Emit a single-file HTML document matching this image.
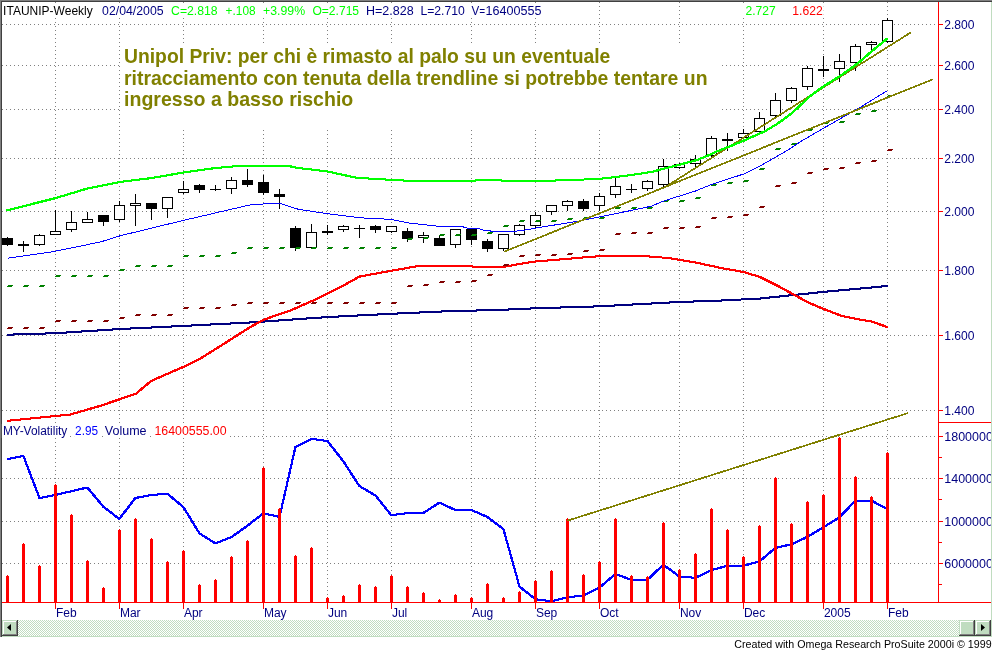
<!DOCTYPE html><html><head><meta charset="utf-8"><title>ITAUNIP-Weekly</title><style>
html,body{margin:0;padding:0;background:#fff;overflow:hidden}
svg{display:block;will-change:transform;font-family:"Liberation Sans",Arial,sans-serif}
.t{font-size:12px}.m{font-size:12px;fill:#000080}
.an{font-size:19.3px;font-weight:bold;fill:#808000}
</style></head><body>
<svg width="993" height="651" viewBox="0 0 993 651">
<defs><pattern id="dz" width="2" height="2" patternUnits="userSpaceOnUse"><rect width="2" height="2" fill="#fff"/><rect width="1" height="1" fill="#c0dcc0"/><rect x="1" y="1" width="1" height="1" fill="#c0dcc0"/></pattern></defs>
<rect width="993" height="651" fill="#fff"/>
<g shape-rendering="crispEdges">
<g stroke="#808080" stroke-width="1" stroke-dasharray="1 3" fill="none">
<line x1="55.5" y1="2" x2="55.5" y2="602"/>
<line x1="119.5" y1="2" x2="119.5" y2="602"/>
<line x1="183.5" y1="2" x2="183.5" y2="602"/>
<line x1="263.5" y1="2" x2="263.5" y2="602"/>
<line x1="327.5" y1="2" x2="327.5" y2="602"/>
<line x1="391.5" y1="2" x2="391.5" y2="602"/>
<line x1="471.5" y1="2" x2="471.5" y2="602"/>
<line x1="535.5" y1="2" x2="535.5" y2="602"/>
<line x1="599.5" y1="2" x2="599.5" y2="602"/>
<line x1="679.5" y1="2" x2="679.5" y2="602"/>
<line x1="743.5" y1="2" x2="743.5" y2="602"/>
<line x1="823.5" y1="2" x2="823.5" y2="602"/>
<line x1="887.5" y1="2" x2="887.5" y2="602"/>
<line x1="2" y1="24.5" x2="938" y2="24.5"/>
<line x1="2" y1="65.5" x2="938" y2="65.5"/>
<line x1="2" y1="109.5" x2="938" y2="109.5"/>
<line x1="2" y1="158.5" x2="938" y2="158.5"/>
<line x1="2" y1="211.5" x2="938" y2="211.5"/>
<line x1="2" y1="270.5" x2="938" y2="270.5"/>
<line x1="2" y1="335.5" x2="938" y2="335.5"/>
<line x1="2" y1="410.5" x2="938" y2="410.5"/>
<line x1="2" y1="436.5" x2="938" y2="436.5"/>
<line x1="2" y1="478.5" x2="938" y2="478.5"/>
<line x1="2" y1="521.5" x2="938" y2="521.5"/>
<line x1="2" y1="563.5" x2="938" y2="563.5"/>
</g>
<rect x="121" y="43" width="600" height="86" fill="#fff"/>
<rect x="0" y="0" width="992" height="1" fill="#808080"/><rect x="1" y="1" width="991" height="1" fill="#404040"/>
<rect x="0" y="0" width="1" height="637" fill="#808080"/><rect x="1" y="1" width="1" height="636" fill="#404040"/>
<rect x="991" y="2" width="1" height="635" fill="#c0dcc0"/>
<rect x="2" y="620" width="989" height="16" fill="url(#dz)"/><rect x="2" y="636" width="990" height="1" fill="#c0dcc0"/>
<rect x="2" y="620" width="16" height="16" fill="#c0dcc0"/>
<rect x="3" y="621" width="13" height="1" fill="#fff"/><rect x="3" y="621" width="1" height="13" fill="#fff"/>
<rect x="2" y="635" width="16" height="1" fill="#404040"/><rect x="17" y="620" width="1" height="16" fill="#404040"/>
<rect x="3" y="634" width="14" height="1" fill="#808080"/><rect x="16" y="621" width="1" height="14" fill="#808080"/>
<rect x="959" y="620" width="16" height="16" fill="#c0dcc0"/>
<rect x="960" y="621" width="13" height="1" fill="#fff"/><rect x="960" y="621" width="1" height="13" fill="#fff"/>
<rect x="959" y="635" width="16" height="1" fill="#404040"/><rect x="974" y="620" width="1" height="16" fill="#404040"/>
<rect x="960" y="634" width="14" height="1" fill="#808080"/><rect x="973" y="621" width="1" height="14" fill="#808080"/>
<rect x="975" y="620" width="16" height="16" fill="#c0dcc0"/>
<rect x="976" y="621" width="13" height="1" fill="#fff"/><rect x="976" y="621" width="1" height="13" fill="#fff"/>
<rect x="975" y="635" width="16" height="1" fill="#404040"/><rect x="990" y="620" width="1" height="16" fill="#404040"/>
<rect x="976" y="634" width="14" height="1" fill="#808080"/><rect x="989" y="621" width="1" height="14" fill="#808080"/>
</g>
<path d="M7 627.5 L11 624 L11 631 Z" fill="#000"/><path d="M985 627.5 L981 624 L981 631 Z" fill="#000"/>
<g shape-rendering="crispEdges">
<rect x="938" y="2" width="1" height="601" fill="#f00"/><rect x="2" y="602" width="989" height="1" fill="#f00"/><rect x="938" y="422" width="53" height="1" fill="#f00"/>
<rect x="939" y="24" width="4" height="1" fill="#f00"/>
<rect x="939" y="65" width="4" height="1" fill="#f00"/>
<rect x="939" y="109" width="4" height="1" fill="#f00"/>
<rect x="939" y="158" width="4" height="1" fill="#f00"/>
<rect x="939" y="211" width="4" height="1" fill="#f00"/>
<rect x="939" y="270" width="4" height="1" fill="#f00"/>
<rect x="939" y="335" width="4" height="1" fill="#f00"/>
<rect x="939" y="410" width="4" height="1" fill="#f00"/>
<rect x="939" y="436" width="4" height="1" fill="#f00"/>
<rect x="939" y="478" width="4" height="1" fill="#f00"/>
<rect x="939" y="521" width="4" height="1" fill="#f00"/>
<rect x="939" y="563" width="4" height="1" fill="#f00"/>
<rect x="939" y="457" width="3" height="1" fill="#f00"/>
<rect x="939" y="499" width="3" height="1" fill="#f00"/>
<rect x="939" y="542" width="3" height="1" fill="#f00"/>
<rect x="939" y="584" width="3" height="1" fill="#f00"/>
<rect x="55" y="603" width="1" height="6" fill="#f00"/>
<rect x="119" y="603" width="1" height="6" fill="#f00"/>
<rect x="183" y="603" width="1" height="6" fill="#f00"/>
<rect x="263" y="603" width="1" height="6" fill="#f00"/>
<rect x="327" y="603" width="1" height="6" fill="#f00"/>
<rect x="391" y="603" width="1" height="6" fill="#f00"/>
<rect x="471" y="603" width="1" height="6" fill="#f00"/>
<rect x="535" y="603" width="1" height="6" fill="#f00"/>
<rect x="599" y="603" width="1" height="6" fill="#f00"/>
<rect x="679" y="603" width="1" height="6" fill="#f00"/>
<rect x="743" y="603" width="1" height="6" fill="#f00"/>
<rect x="823" y="603" width="1" height="6" fill="#f00"/>
<rect x="887" y="603" width="1" height="6" fill="#f00"/>
<g fill="none" stroke="#00f" stroke-width="1"><polyline points="7.0,458.5 22.9,455.5 39.0,497.5 54.9,494.5 71.0,490.7 86.9,487.0 103.0,506.4 118.8,518.4 134.9,497.5 150.8,494.5 166.9,493.3 182.8,506.4 198.9,532.8 214.8,542.9 230.9,536.6 247.0,525.2 262.9,512.7 279.0,516.5 294.9,446.7 311.0,438.4 326.9,440.5 343.0,461.0 358.8,485.5 375.0,495.0 390.8,514.7 406.9,512.7 423.3,512.2 438.9,502.1 454.8,509.5 470.9,509.5 487.0,516.5 502.9,528.5 519.0,586.1 534.9,598.7 551.0,600.7 566.9,596.9 583.0,594.9 598.8,587.3 614.9,573.5 630.8,579.3 646.9,579.3 662.8,564.2 678.9,576.0 694.8,577.3 710.9,569.7 726.9,565.2 742.9,565.2 758.8,561.1 774.8,547.4 791.0,543.8 806.9,536.4 822.9,526.7 838.8,517.1 854.8,500.1 870.7,500.1 886.7,508.3"/><polyline points="8.0,458.5 23.9,455.5 40.0,497.5 55.9,494.5 72.0,490.7 87.9,487.0 104.0,506.4 119.8,518.4 135.9,497.5 151.8,494.5 167.9,493.3 183.8,506.4 199.9,532.8 215.8,542.9 231.9,536.6 248.0,525.2 263.9,512.7 280.0,516.5 295.9,446.7 312.0,438.4 327.9,440.5 344.0,461.0 359.8,485.5 376.0,495.0 391.8,514.7 407.9,512.7 424.3,512.2 439.9,502.1 455.8,509.5 471.9,509.5 488.0,516.5 503.9,528.5 520.0,586.1 535.9,598.7 552.0,600.7 567.9,596.9 584.0,594.9 599.8,587.3 615.9,573.5 631.8,579.3 647.9,579.3 663.8,564.2 679.9,576.0 695.8,577.3 711.9,569.7 727.9,565.2 743.9,565.2 759.8,561.1 775.8,547.4 792.0,543.8 807.9,536.4 823.9,526.7 839.8,517.1 855.8,500.1 871.7,500.1 887.7,508.3"/><polyline points="7.0,459.5 22.9,456.5 39.0,498.5 54.9,495.5 71.0,491.7 86.9,488.0 103.0,507.4 118.8,519.4 134.9,498.5 150.8,495.5 166.9,494.3 182.8,507.4 198.9,533.8 214.8,543.9 230.9,537.6 247.0,526.2 262.9,513.7 279.0,517.5 294.9,447.7 311.0,439.4 326.9,441.5 343.0,462.0 358.8,486.5 375.0,496.0 390.8,515.7 406.9,513.7 423.3,513.2 438.9,503.1 454.8,510.5 470.9,510.5 487.0,517.5 502.9,529.5 519.0,587.1 534.9,599.7 551.0,601.7 566.9,597.9 583.0,595.9 598.8,588.3 614.9,574.5 630.8,580.3 646.9,580.3 662.8,565.2 678.9,577.0 694.8,578.3 710.9,570.7 726.9,566.2 742.9,566.2 758.8,562.1 774.8,548.4 791.0,544.8 806.9,537.4 822.9,527.7 838.8,518.1 854.8,501.1 870.7,501.1 886.7,509.3"/><polyline points="8.0,459.5 23.9,456.5 40.0,498.5 55.9,495.5 72.0,491.7 87.9,488.0 104.0,507.4 119.8,519.4 135.9,498.5 151.8,495.5 167.9,494.3 183.8,507.4 199.9,533.8 215.8,543.9 231.9,537.6 248.0,526.2 263.9,513.7 280.0,517.5 295.9,447.7 312.0,439.4 327.9,441.5 344.0,462.0 359.8,486.5 376.0,496.0 391.8,515.7 407.9,513.7 424.3,513.2 439.9,503.1 455.8,510.5 471.9,510.5 488.0,517.5 503.9,529.5 520.0,587.1 535.9,599.7 552.0,601.7 567.9,597.9 584.0,595.9 599.8,588.3 615.9,574.5 631.8,580.3 647.9,580.3 663.8,565.2 679.9,577.0 695.8,578.3 711.9,570.7 727.9,566.2 743.9,566.2 759.8,562.1 775.8,548.4 792.0,544.8 807.9,537.4 823.9,527.7 839.8,518.1 855.8,501.1 871.7,501.1 887.7,509.3"/></g>
<rect x="6" y="576" width="3" height="26" fill="#f00"/><rect x="7" y="575" width="1" height="1" fill="#f00"/>
<rect x="22" y="544" width="3" height="58" fill="#f00"/><rect x="23" y="543" width="1" height="1" fill="#f00"/>
<rect x="38" y="566" width="3" height="36" fill="#f00"/><rect x="39" y="565" width="1" height="1" fill="#f00"/>
<rect x="54" y="485" width="3" height="117" fill="#f00"/><rect x="55" y="484" width="1" height="1" fill="#f00"/>
<rect x="70" y="515" width="3" height="87" fill="#f00"/><rect x="71" y="514" width="1" height="1" fill="#f00"/>
<rect x="86" y="561" width="3" height="41" fill="#f00"/><rect x="87" y="560" width="1" height="1" fill="#f00"/>
<rect x="102" y="588" width="3" height="14" fill="#f00"/><rect x="103" y="587" width="1" height="1" fill="#f00"/>
<rect x="118" y="530" width="3" height="72" fill="#f00"/><rect x="119" y="529" width="1" height="1" fill="#f00"/>
<rect x="134" y="519" width="3" height="83" fill="#f00"/><rect x="135" y="518" width="1" height="1" fill="#f00"/>
<rect x="150" y="539" width="3" height="63" fill="#f00"/><rect x="151" y="538" width="1" height="1" fill="#f00"/>
<rect x="166" y="562" width="3" height="40" fill="#f00"/><rect x="167" y="561" width="1" height="1" fill="#f00"/>
<rect x="182" y="551" width="3" height="51" fill="#f00"/><rect x="183" y="550" width="1" height="1" fill="#f00"/>
<rect x="198" y="585" width="3" height="17" fill="#f00"/><rect x="199" y="584" width="1" height="1" fill="#f00"/>
<rect x="214" y="580" width="3" height="22" fill="#f00"/><rect x="215" y="579" width="1" height="1" fill="#f00"/>
<rect x="230" y="557" width="3" height="45" fill="#f00"/><rect x="231" y="556" width="1" height="1" fill="#f00"/>
<rect x="246" y="541" width="3" height="61" fill="#f00"/><rect x="247" y="540" width="1" height="1" fill="#f00"/>
<rect x="262" y="468" width="3" height="134" fill="#f00"/><rect x="263" y="467" width="1" height="1" fill="#f00"/>
<rect x="278" y="509" width="3" height="93" fill="#f00"/><rect x="279" y="508" width="1" height="1" fill="#f00"/>
<rect x="294" y="556" width="3" height="46" fill="#f00"/><rect x="295" y="555" width="1" height="1" fill="#f00"/>
<rect x="310" y="548" width="3" height="54" fill="#f00"/><rect x="311" y="547" width="1" height="1" fill="#f00"/>
<rect x="326" y="598" width="3" height="4" fill="#f00"/><rect x="327" y="597" width="1" height="1" fill="#f00"/>
<rect x="342" y="596" width="3" height="6" fill="#f00"/><rect x="343" y="595" width="1" height="1" fill="#f00"/>
<rect x="358" y="585" width="3" height="17" fill="#f00"/><rect x="359" y="584" width="1" height="1" fill="#f00"/>
<rect x="374" y="587" width="3" height="15" fill="#f00"/><rect x="375" y="586" width="1" height="1" fill="#f00"/>
<rect x="390" y="576" width="3" height="26" fill="#f00"/><rect x="391" y="575" width="1" height="1" fill="#f00"/>
<rect x="406" y="587" width="3" height="15" fill="#f00"/><rect x="407" y="586" width="1" height="1" fill="#f00"/>
<rect x="422" y="593" width="3" height="9" fill="#f00"/><rect x="423" y="592" width="1" height="1" fill="#f00"/>
<rect x="438" y="600" width="3" height="2" fill="#f00"/><rect x="439" y="599" width="1" height="1" fill="#f00"/>
<rect x="454" y="595" width="3" height="7" fill="#f00"/><rect x="455" y="594" width="1" height="1" fill="#f00"/>
<rect x="470" y="598" width="3" height="4" fill="#f00"/><rect x="471" y="597" width="1" height="1" fill="#f00"/>
<rect x="486" y="584" width="3" height="18" fill="#f00"/><rect x="487" y="583" width="1" height="1" fill="#f00"/>
<rect x="502" y="598" width="3" height="4" fill="#f00"/><rect x="503" y="597" width="1" height="1" fill="#f00"/>
<rect x="518" y="592" width="3" height="10" fill="#f00"/><rect x="519" y="591" width="1" height="1" fill="#f00"/>
<rect x="534" y="581" width="3" height="21" fill="#f00"/><rect x="535" y="580" width="1" height="1" fill="#f00"/>
<rect x="550" y="571" width="3" height="31" fill="#f00"/><rect x="551" y="570" width="1" height="1" fill="#f00"/>
<rect x="566" y="519" width="3" height="83" fill="#f00"/><rect x="567" y="518" width="1" height="1" fill="#f00"/>
<rect x="582" y="575" width="3" height="27" fill="#f00"/><rect x="583" y="574" width="1" height="1" fill="#f00"/>
<rect x="598" y="562" width="3" height="40" fill="#f00"/><rect x="599" y="561" width="1" height="1" fill="#f00"/>
<rect x="614" y="519" width="3" height="83" fill="#f00"/><rect x="615" y="518" width="1" height="1" fill="#f00"/>
<rect x="630" y="576" width="3" height="26" fill="#f00"/><rect x="631" y="575" width="1" height="1" fill="#f00"/>
<rect x="646" y="577" width="3" height="25" fill="#f00"/><rect x="647" y="576" width="1" height="1" fill="#f00"/>
<rect x="662" y="523" width="3" height="79" fill="#f00"/><rect x="663" y="522" width="1" height="1" fill="#f00"/>
<rect x="678" y="570" width="3" height="32" fill="#f00"/><rect x="679" y="569" width="1" height="1" fill="#f00"/>
<rect x="694" y="554" width="3" height="48" fill="#f00"/><rect x="695" y="553" width="1" height="1" fill="#f00"/>
<rect x="710" y="509" width="3" height="93" fill="#f00"/><rect x="711" y="508" width="1" height="1" fill="#f00"/>
<rect x="726" y="530" width="3" height="72" fill="#f00"/><rect x="727" y="529" width="1" height="1" fill="#f00"/>
<rect x="742" y="557" width="3" height="45" fill="#f00"/><rect x="743" y="556" width="1" height="1" fill="#f00"/>
<rect x="758" y="526" width="3" height="76" fill="#f00"/><rect x="759" y="525" width="1" height="1" fill="#f00"/>
<rect x="774" y="478" width="3" height="124" fill="#f00"/><rect x="775" y="477" width="1" height="1" fill="#f00"/>
<rect x="790" y="524" width="3" height="78" fill="#f00"/><rect x="791" y="523" width="1" height="1" fill="#f00"/>
<rect x="806" y="502" width="3" height="100" fill="#f00"/><rect x="807" y="501" width="1" height="1" fill="#f00"/>
<rect x="822" y="495" width="3" height="107" fill="#f00"/><rect x="823" y="494" width="1" height="1" fill="#f00"/>
<rect x="838" y="438" width="3" height="164" fill="#f00"/><rect x="839" y="437" width="1" height="1" fill="#f00"/>
<rect x="854" y="477" width="3" height="125" fill="#f00"/><rect x="855" y="476" width="1" height="1" fill="#f00"/>
<rect x="870" y="497" width="3" height="105" fill="#f00"/><rect x="871" y="496" width="1" height="1" fill="#f00"/>
<rect x="886" y="453" width="3" height="149" fill="#f00"/><rect x="887" y="452" width="1" height="1" fill="#f00"/>
<rect x="7" y="237" width="1" height="9" fill="#000"/>
<rect x="2" y="238" width="11" height="7" fill="#000"/>
<rect x="23" y="241" width="1" height="11" fill="#000"/>
<rect x="18" y="244" width="11" height="2" fill="#000"/>
<rect x="39" y="234" width="1" height="12" fill="#000"/>
<rect x="34.5" y="235.5" width="10" height="9" fill="#fff" stroke="#000" stroke-width="1"/>
<rect x="55" y="210" width="1" height="25" fill="#000"/>
<rect x="50.5" y="231.5" width="10" height="3" fill="#fff" stroke="#000" stroke-width="1"/>
<rect x="71" y="211" width="1" height="21" fill="#000"/>
<rect x="66.5" y="222.5" width="10" height="7" fill="#fff" stroke="#000" stroke-width="1"/>
<rect x="87" y="212" width="1" height="11" fill="#000"/>
<rect x="82.5" y="219.5" width="10" height="3" fill="#fff" stroke="#000" stroke-width="1"/>
<rect x="103" y="215" width="1" height="11" fill="#000"/>
<rect x="98" y="215" width="11" height="7" fill="#000"/>
<rect x="119" y="201" width="1" height="21" fill="#000"/>
<rect x="114.5" y="205.5" width="10" height="14" fill="#fff" stroke="#000" stroke-width="1"/>
<rect x="135" y="194" width="1" height="32" fill="#000"/>
<rect x="130.5" y="203.5" width="10" height="2" fill="#fff" stroke="#000" stroke-width="1"/>
<rect x="151" y="203" width="1" height="17" fill="#000"/>
<rect x="146" y="203" width="11" height="6" fill="#000"/>
<rect x="167" y="197" width="1" height="21" fill="#000"/>
<rect x="162.5" y="197.5" width="10" height="11" fill="#fff" stroke="#000" stroke-width="1"/>
<rect x="183" y="181" width="1" height="13" fill="#000"/>
<rect x="178.5" y="189.5" width="10" height="3" fill="#fff" stroke="#000" stroke-width="1"/>
<rect x="199" y="184" width="1" height="9" fill="#000"/>
<rect x="194" y="185" width="11" height="5" fill="#000"/>
<rect x="215" y="185" width="1" height="6" fill="#000"/>
<rect x="210" y="189" width="11" height="1" fill="#000"/>
<rect x="231" y="177" width="1" height="17" fill="#000"/>
<rect x="226.5" y="180.5" width="10" height="8" fill="#fff" stroke="#000" stroke-width="1"/>
<rect x="247" y="169" width="1" height="18" fill="#000"/>
<rect x="242" y="180" width="11" height="5" fill="#000"/>
<rect x="263" y="175" width="1" height="20" fill="#000"/>
<rect x="258" y="182" width="11" height="11" fill="#000"/>
<rect x="279" y="189" width="1" height="20" fill="#000"/>
<rect x="274" y="194" width="11" height="3" fill="#000"/>
<rect x="295" y="226" width="1" height="25" fill="#000"/>
<rect x="290" y="228" width="11" height="20" fill="#000"/>
<rect x="311" y="224" width="1" height="24" fill="#000"/>
<rect x="306.5" y="232.5" width="10" height="15" fill="#fff" stroke="#000" stroke-width="1"/>
<rect x="327" y="225" width="1" height="10" fill="#000"/>
<rect x="322" y="231" width="11" height="2" fill="#000"/>
<rect x="343" y="225" width="1" height="7" fill="#000"/>
<rect x="338.5" y="226.5" width="10" height="3" fill="#fff" stroke="#000" stroke-width="1"/>
<rect x="359" y="225" width="1" height="13" fill="#000"/>
<rect x="354" y="228" width="11" height="1" fill="#000"/>
<rect x="375" y="225" width="1" height="8" fill="#000"/>
<rect x="370" y="226" width="11" height="4" fill="#000"/>
<rect x="391" y="226" width="1" height="7" fill="#000"/>
<rect x="386.5" y="226.5" width="10" height="5" fill="#fff" stroke="#000" stroke-width="1"/>
<rect x="407" y="228" width="1" height="14" fill="#000"/>
<rect x="402" y="231" width="11" height="8" fill="#000"/>
<rect x="423" y="232" width="1" height="11" fill="#000"/>
<rect x="418.5" y="235.5" width="10" height="2" fill="#fff" stroke="#000" stroke-width="1"/>
<rect x="439" y="236" width="1" height="10" fill="#000"/>
<rect x="434" y="238" width="11" height="8" fill="#000"/>
<rect x="455" y="229" width="1" height="19" fill="#000"/>
<rect x="450.5" y="229.5" width="10" height="15" fill="#fff" stroke="#000" stroke-width="1"/>
<rect x="471" y="228" width="1" height="17" fill="#000"/>
<rect x="466" y="229" width="11" height="11" fill="#000"/>
<rect x="487" y="239" width="1" height="13" fill="#000"/>
<rect x="482" y="241" width="11" height="8" fill="#000"/>
<rect x="503" y="234" width="1" height="17" fill="#000"/>
<rect x="498.5" y="234.5" width="10" height="14" fill="#fff" stroke="#000" stroke-width="1"/>
<rect x="519" y="224" width="1" height="12" fill="#000"/>
<rect x="514.5" y="225.5" width="10" height="9" fill="#fff" stroke="#000" stroke-width="1"/>
<rect x="535" y="212" width="1" height="16" fill="#000"/>
<rect x="530.5" y="215.5" width="10" height="10" fill="#fff" stroke="#000" stroke-width="1"/>
<rect x="551" y="205" width="1" height="10" fill="#000"/>
<rect x="546.5" y="205.5" width="10" height="6" fill="#fff" stroke="#000" stroke-width="1"/>
<rect x="567" y="200" width="1" height="11" fill="#000"/>
<rect x="562.5" y="201.5" width="10" height="4" fill="#fff" stroke="#000" stroke-width="1"/>
<rect x="583" y="199" width="1" height="12" fill="#000"/>
<rect x="578" y="201" width="11" height="8" fill="#000"/>
<rect x="599" y="193" width="1" height="18" fill="#000"/>
<rect x="594.5" y="196.5" width="10" height="9" fill="#fff" stroke="#000" stroke-width="1"/>
<rect x="615" y="178" width="1" height="20" fill="#000"/>
<rect x="610.5" y="186.5" width="10" height="8" fill="#fff" stroke="#000" stroke-width="1"/>
<rect x="631" y="184" width="1" height="9" fill="#000"/>
<rect x="626" y="189" width="11" height="1" fill="#000"/>
<rect x="647" y="180" width="1" height="11" fill="#000"/>
<rect x="642.5" y="181.5" width="10" height="7" fill="#fff" stroke="#000" stroke-width="1"/>
<rect x="663" y="159" width="1" height="28" fill="#000"/>
<rect x="658.5" y="166.5" width="10" height="18" fill="#fff" stroke="#000" stroke-width="1"/>
<rect x="679" y="163" width="1" height="6" fill="#000"/>
<rect x="674.5" y="164.5" width="10" height="3" fill="#fff" stroke="#000" stroke-width="1"/>
<rect x="695" y="155" width="1" height="13" fill="#000"/>
<rect x="690.5" y="159.5" width="10" height="4" fill="#fff" stroke="#000" stroke-width="1"/>
<rect x="711" y="136" width="1" height="22" fill="#000"/>
<rect x="706.5" y="138.5" width="10" height="17" fill="#fff" stroke="#000" stroke-width="1"/>
<rect x="727" y="133" width="1" height="18" fill="#000"/>
<rect x="722" y="139" width="11" height="2" fill="#000"/>
<rect x="743" y="129" width="1" height="11" fill="#000"/>
<rect x="738.5" y="133.5" width="10" height="4" fill="#fff" stroke="#000" stroke-width="1"/>
<rect x="759" y="112" width="1" height="20" fill="#000"/>
<rect x="754.5" y="118.5" width="10" height="13" fill="#fff" stroke="#000" stroke-width="1"/>
<rect x="775" y="93" width="1" height="24" fill="#000"/>
<rect x="770.5" y="100.5" width="10" height="15" fill="#fff" stroke="#000" stroke-width="1"/>
<rect x="791" y="87" width="1" height="16" fill="#000"/>
<rect x="786.5" y="88.5" width="10" height="12" fill="#fff" stroke="#000" stroke-width="1"/>
<rect x="807" y="66" width="1" height="24" fill="#000"/>
<rect x="802.5" y="68.5" width="10" height="18" fill="#fff" stroke="#000" stroke-width="1"/>
<rect x="823" y="56" width="1" height="21" fill="#000"/>
<rect x="818" y="69" width="11" height="2" fill="#000"/>
<rect x="839" y="54" width="1" height="28" fill="#000"/>
<rect x="834.5" y="61.5" width="10" height="7" fill="#fff" stroke="#000" stroke-width="1"/>
<rect x="855" y="44" width="1" height="27" fill="#000"/>
<rect x="850.5" y="46.5" width="10" height="16" fill="#fff" stroke="#000" stroke-width="1"/>
<rect x="871" y="41" width="1" height="10" fill="#000"/>
<rect x="866.5" y="42.5" width="10" height="2" fill="#fff" stroke="#000" stroke-width="1"/>
<rect x="887" y="18" width="1" height="25" fill="#000"/>
<rect x="882.5" y="20.5" width="10" height="21" fill="#fff" stroke="#000" stroke-width="1"/>
<g fill="none" stroke="#000080" stroke-width="1"><polyline points="7.0,334.2 54.9,332.7 120.3,328.5 183.3,325.4 249.5,322.0 326.4,316.6 390.5,313.3 456.0,310.3 489.5,309.8 534.9,307.8 599.1,305.8 678.5,301.5 719.5,300.1 759.8,298.0 795.0,294.3 825.2,291.2 886.9,285.5"/><polyline points="8.0,334.2 55.9,332.7 121.3,328.5 184.3,325.4 250.5,322.0 327.4,316.6 391.5,313.3 457.0,310.3 490.5,309.8 535.9,307.8 600.1,305.8 679.5,301.5 720.5,300.1 760.8,298.0 796.0,294.3 826.2,291.2 887.9,285.5"/><polyline points="7.0,335.2 54.9,333.7 120.3,329.5 183.3,326.4 249.5,323.0 326.4,317.6 390.5,314.3 456.0,311.3 489.5,310.8 534.9,308.8 599.1,306.8 678.5,302.5 719.5,301.1 759.8,299.0 795.0,295.3 825.2,292.2 886.9,286.5"/><polyline points="8.0,335.2 55.9,333.7 121.3,329.5 184.3,326.4 250.5,323.0 327.4,317.6 391.5,314.3 457.0,311.3 490.5,310.8 535.9,308.8 600.1,306.8 679.5,302.5 720.5,301.1 760.8,299.0 796.0,295.3 826.2,292.2 887.9,286.5"/></g>
<g fill="none" stroke="#f00" stroke-width="1"><polyline points="7.0,420.3 70.0,414.0 100.2,405.2 135.5,393.2 150.5,380.5 183.3,366.2 200.9,357.4 221.0,344.8 249.5,326.7 263.5,319.1 291.1,309.5 313.8,299.5 342.5,285.2 359.0,276.1 390.5,270.3 410.0,266.9 418.1,265.5 471.2,265.5 472.5,266.3 503.5,266.3 521.5,263.1 534.9,261.0 559.5,259.0 584.1,256.8 598.8,255.7 645.5,255.7 667.5,257.5 697.1,262.4 719.5,267.3 743.5,271.6 759.8,276.6 777.5,285.5 795.0,295.0 807.5,301.9 821.2,307.7 840.5,315.2 857.0,318.7 870.7,320.9 886.7,326.5"/><polyline points="8.0,420.3 71.0,414.0 101.2,405.2 136.5,393.2 151.5,380.5 184.3,366.2 201.9,357.4 222.0,344.8 250.5,326.7 264.5,319.1 292.1,309.5 314.8,299.5 343.5,285.2 360.0,276.1 391.5,270.3 411.0,266.9 419.1,265.5 472.2,265.5 473.5,266.3 504.5,266.3 522.5,263.1 535.9,261.0 560.5,259.0 585.1,256.8 599.8,255.7 646.5,255.7 668.5,257.5 698.1,262.4 720.5,267.3 744.5,271.6 760.8,276.6 778.5,285.5 796.0,295.0 808.5,301.9 822.2,307.7 841.5,315.2 858.0,318.7 871.7,320.9 887.7,326.5"/><polyline points="7.0,421.3 70.0,415.0 100.2,406.2 135.5,394.2 150.5,381.5 183.3,367.2 200.9,358.4 221.0,345.8 249.5,327.7 263.5,320.1 291.1,310.5 313.8,300.5 342.5,286.2 359.0,277.1 390.5,271.3 410.0,267.9 418.1,266.5 471.2,266.5 472.5,267.3 503.5,267.3 521.5,264.1 534.9,262.0 559.5,260.0 584.1,257.8 598.8,256.7 645.5,256.7 667.5,258.5 697.1,263.4 719.5,268.3 743.5,272.6 759.8,277.6 777.5,286.5 795.0,296.0 807.5,302.9 821.2,308.7 840.5,316.2 857.0,319.7 870.7,321.9 886.7,327.5"/><polyline points="8.0,421.3 71.0,415.0 101.2,406.2 136.5,394.2 151.5,381.5 184.3,367.2 201.9,358.4 222.0,345.8 250.5,327.7 264.5,320.1 292.1,310.5 314.8,300.5 343.5,286.2 360.0,277.1 391.5,271.3 411.0,267.9 419.1,266.5 472.2,266.5 473.5,267.3 504.5,267.3 522.5,264.1 535.9,262.0 560.5,260.0 585.1,257.8 599.8,256.7 646.5,256.7 668.5,258.5 698.1,263.4 720.5,268.3 744.5,272.6 760.8,277.6 778.5,286.5 796.0,296.0 808.5,302.9 822.2,308.7 841.5,316.2 858.0,319.7 871.7,321.9 887.7,327.5"/></g>
<path d="M8 327h5v1h-5zM7 328h5v1h-5z" fill="#800000"/>
<path d="M8 285h5v1h-5zM7 286h5v1h-5z" fill="#008000"/>
<path d="M24 327h5v1h-5zM23 328h5v1h-5z" fill="#800000"/>
<path d="M24 285h5v1h-5zM23 286h5v1h-5z" fill="#008000"/>
<path d="M40 327h5v1h-5zM39 328h5v1h-5z" fill="#800000"/>
<path d="M40 285h5v1h-5zM39 286h5v1h-5z" fill="#008000"/>
<path d="M56 320h5v1h-5zM55 321h5v1h-5z" fill="#800000"/>
<path d="M56 275h5v1h-5zM55 276h5v1h-5z" fill="#008000"/>
<path d="M72 320h5v1h-5zM71 321h5v1h-5z" fill="#800000"/>
<path d="M72 275h5v1h-5zM71 276h5v1h-5z" fill="#008000"/>
<path d="M88 320h5v1h-5zM87 321h5v1h-5z" fill="#800000"/>
<path d="M88 275h5v1h-5zM87 276h5v1h-5z" fill="#008000"/>
<path d="M104 320h5v1h-5zM103 321h5v1h-5z" fill="#800000"/>
<path d="M104 275h5v1h-5zM103 276h5v1h-5z" fill="#008000"/>
<path d="M120 317h5v1h-5zM119 318h5v1h-5z" fill="#800000"/>
<path d="M120 269h5v1h-5zM119 270h5v1h-5z" fill="#008000"/>
<path d="M136 314h5v1h-5zM135 315h5v1h-5z" fill="#800000"/>
<path d="M136 265h5v1h-5zM135 266h5v1h-5z" fill="#008000"/>
<path d="M152 314h5v1h-5zM151 315h5v1h-5z" fill="#800000"/>
<path d="M152 265h5v1h-5zM151 266h5v1h-5z" fill="#008000"/>
<path d="M168 314h5v1h-5zM167 315h5v1h-5z" fill="#800000"/>
<path d="M168 265h5v1h-5zM167 266h5v1h-5z" fill="#008000"/>
<path d="M184 307h5v1h-5zM183 308h5v1h-5z" fill="#800000"/>
<path d="M184 255h5v1h-5zM183 256h5v1h-5z" fill="#008000"/>
<path d="M200 307h5v1h-5zM199 308h5v1h-5z" fill="#800000"/>
<path d="M200 255h5v1h-5zM199 256h5v1h-5z" fill="#008000"/>
<path d="M216 307h5v1h-5zM215 308h5v1h-5z" fill="#800000"/>
<path d="M216 255h5v1h-5zM215 256h5v1h-5z" fill="#008000"/>
<path d="M232 304h5v1h-5zM231 305h5v1h-5z" fill="#800000"/>
<path d="M232 252h5v1h-5zM231 253h5v1h-5z" fill="#008000"/>
<path d="M248 302h5v1h-5zM247 303h5v1h-5z" fill="#800000"/>
<path d="M248 247h5v1h-5zM247 248h5v1h-5z" fill="#008000"/>
<path d="M264 302h5v1h-5zM263 303h5v1h-5z" fill="#800000"/>
<path d="M264 247h5v1h-5zM263 248h5v1h-5z" fill="#008000"/>
<path d="M280 302h5v1h-5zM279 303h5v1h-5z" fill="#800000"/>
<path d="M280 247h5v1h-5zM279 248h5v1h-5z" fill="#008000"/>
<path d="M296 302h5v1h-5zM295 303h5v1h-5z" fill="#800000"/>
<path d="M296 247h5v1h-5zM295 248h5v1h-5z" fill="#008000"/>
<path d="M312 302h5v1h-5zM311 303h5v1h-5z" fill="#800000"/>
<path d="M312 247h5v1h-5zM311 248h5v1h-5z" fill="#008000"/>
<path d="M328 302h5v1h-5zM327 303h5v1h-5z" fill="#800000"/>
<path d="M328 247h5v1h-5zM327 248h5v1h-5z" fill="#008000"/>
<path d="M344 302h5v1h-5zM343 303h5v1h-5z" fill="#800000"/>
<path d="M344 247h5v1h-5zM343 248h5v1h-5z" fill="#008000"/>
<path d="M360 302h5v1h-5zM359 303h5v1h-5z" fill="#800000"/>
<path d="M360 247h5v1h-5zM359 248h5v1h-5z" fill="#008000"/>
<path d="M376 302h5v1h-5zM375 303h5v1h-5z" fill="#800000"/>
<path d="M376 247h5v1h-5zM375 248h5v1h-5z" fill="#008000"/>
<path d="M392 302h5v1h-5zM391 303h5v1h-5z" fill="#800000"/>
<path d="M392 247h5v1h-5zM391 248h5v1h-5z" fill="#008000"/>
<path d="M408 285h5v1h-5zM407 286h5v1h-5z" fill="#800000"/>
<path d="M408 238h5v1h-5zM407 239h5v1h-5z" fill="#008000"/>
<path d="M424 284h5v1h-5zM423 285h5v1h-5z" fill="#800000"/>
<path d="M424 237h5v1h-5zM423 238h5v1h-5z" fill="#008000"/>
<path d="M440 281h5v1h-5zM439 282h5v1h-5z" fill="#800000"/>
<path d="M440 234h5v1h-5zM439 235h5v1h-5z" fill="#008000"/>
<path d="M456 281h5v1h-5zM455 282h5v1h-5z" fill="#800000"/>
<path d="M456 234h5v1h-5zM455 235h5v1h-5z" fill="#008000"/>
<path d="M472 280h5v1h-5zM471 281h5v1h-5z" fill="#800000"/>
<path d="M472 234h5v1h-5zM471 235h5v1h-5z" fill="#008000"/>
<path d="M488 274h5v1h-5zM487 275h5v1h-5z" fill="#800000"/>
<path d="M488 232h5v1h-5zM487 233h5v1h-5z" fill="#008000"/>
<path d="M504 264h5v1h-5zM503 265h5v1h-5z" fill="#800000"/>
<path d="M504 225h5v1h-5zM503 226h5v1h-5z" fill="#008000"/>
<path d="M520 255h5v1h-5zM519 256h5v1h-5z" fill="#800000"/>
<path d="M520 220h5v1h-5zM519 221h5v1h-5z" fill="#008000"/>
<path d="M536 254h5v1h-5zM535 255h5v1h-5z" fill="#800000"/>
<path d="M536 220h5v1h-5zM535 221h5v1h-5z" fill="#008000"/>
<path d="M552 254h5v1h-5zM551 255h5v1h-5z" fill="#800000"/>
<path d="M552 220h5v1h-5zM551 221h5v1h-5z" fill="#008000"/>
<path d="M568 253h5v1h-5zM567 254h5v1h-5z" fill="#800000"/>
<path d="M568 218h5v1h-5zM567 219h5v1h-5z" fill="#008000"/>
<path d="M584 250h5v1h-5zM583 251h5v1h-5z" fill="#800000"/>
<path d="M584 217h5v1h-5zM583 218h5v1h-5z" fill="#008000"/>
<path d="M600 249h5v1h-5zM599 250h5v1h-5z" fill="#800000"/>
<path d="M600 217h5v1h-5zM599 218h5v1h-5z" fill="#008000"/>
<path d="M616 233h5v1h-5zM615 234h5v1h-5z" fill="#800000"/>
<path d="M616 207h5v1h-5zM615 208h5v1h-5z" fill="#008000"/>
<path d="M632 232h5v1h-5zM631 233h5v1h-5z" fill="#800000"/>
<path d="M632 207h5v1h-5zM631 208h5v1h-5z" fill="#008000"/>
<path d="M648 232h5v1h-5zM647 233h5v1h-5z" fill="#800000"/>
<path d="M648 207h5v1h-5zM647 208h5v1h-5z" fill="#008000"/>
<path d="M664 227h5v1h-5zM663 228h5v1h-5z" fill="#800000"/>
<path d="M664 200h5v1h-5zM663 201h5v1h-5z" fill="#008000"/>
<path d="M680 227h5v1h-5zM679 228h5v1h-5z" fill="#800000"/>
<path d="M680 200h5v1h-5zM679 201h5v1h-5z" fill="#008000"/>
<path d="M696 226h5v1h-5zM695 227h5v1h-5z" fill="#800000"/>
<path d="M696 197h5v1h-5zM695 198h5v1h-5z" fill="#008000"/>
<path d="M712 217h5v1h-5zM711 218h5v1h-5z" fill="#800000"/>
<path d="M712 184h5v1h-5zM711 185h5v1h-5z" fill="#008000"/>
<path d="M728 216h5v1h-5zM727 217h5v1h-5z" fill="#800000"/>
<path d="M728 182h5v1h-5zM727 183h5v1h-5z" fill="#008000"/>
<path d="M744 214h5v1h-5zM743 215h5v1h-5z" fill="#800000"/>
<path d="M744 180h5v1h-5zM743 181h5v1h-5z" fill="#008000"/>
<path d="M760 206h5v1h-5zM759 207h5v1h-5z" fill="#800000"/>
<path d="M760 168h5v1h-5zM759 169h5v1h-5z" fill="#008000"/>
<path d="M776 185h5v1h-5zM775 186h5v1h-5z" fill="#800000"/>
<path d="M776 148h5v1h-5zM775 149h5v1h-5z" fill="#008000"/>
<path d="M792 182h5v1h-5zM791 183h5v1h-5z" fill="#800000"/>
<path d="M792 143h5v1h-5zM791 144h5v1h-5z" fill="#008000"/>
<path d="M808 172h5v1h-5zM807 173h5v1h-5z" fill="#800000"/>
<path d="M808 129h5v1h-5zM807 130h5v1h-5z" fill="#008000"/>
<path d="M824 168h5v1h-5zM823 169h5v1h-5z" fill="#800000"/>
<path d="M824 122h5v1h-5zM823 123h5v1h-5z" fill="#008000"/>
<path d="M840 167h5v1h-5zM839 168h5v1h-5z" fill="#800000"/>
<path d="M840 121h5v1h-5zM839 122h5v1h-5z" fill="#008000"/>
<path d="M856 162h5v1h-5zM855 163h5v1h-5z" fill="#800000"/>
<path d="M856 113h5v1h-5zM855 114h5v1h-5z" fill="#008000"/>
<path d="M872 160h5v1h-5zM871 161h5v1h-5z" fill="#800000"/>
<path d="M872 110h5v1h-5zM871 111h5v1h-5z" fill="#008000"/>
<path d="M888 149h5v1h-5zM887 150h5v1h-5z" fill="#800000"/>
<path d="M888 95h5v1h-5zM887 96h5v1h-5z" fill="#008000"/>
<polyline points="7.5,258.3 54.0,251.5 100.7,241.9 120.8,235.6 183.8,220.3 250.0,204.9 254.7,204.3 271.0,203.7 279.7,203.3 298.4,209.3 327.8,213.7 360.0,217.8 391.4,219.4 408.0,222.9 438.0,226.2 460.4,226.2 469.2,228.5 478.0,228.5 485.4,230.6 498.0,231.6 510.4,231.6 522.0,230.6 535.5,228.1 578.0,221.2 632.0,210.3 650.9,206.3 664.3,200.8 695.0,191.2 711.8,184.3 744.0,173.9 760.0,166.0 770.4,160.0 788.0,150.0 802.4,140.5 823.7,128.1 859.0,108.1 887.4,90.6" fill="none" stroke="#00f" stroke-width="1"/>
<line x1="504" y1="251.7" x2="933" y2="79.3" stroke="#808000" stroke-width="1.7"/>
<line x1="667.5" y1="185.6" x2="911.2" y2="32.2" stroke="#808000" stroke-width="1.7"/>
<line x1="567.4" y1="520.7" x2="908.3" y2="413" stroke="#808000" stroke-width="1.7"/>
<g fill="none" stroke="#0f0" stroke-width="1"><polyline points="6.5,209.8 55.1,197.6 86.9,188.0 119.5,181.5 150.7,177.6 183.2,172.0 214.4,167.6 231.9,166.0 248.0,165.1 286.7,165.1 295.5,167.2 327.3,171.0 355.5,177.2 375.5,178.5 406.9,180.2 471.1,180.2 489.5,179.2 503.5,180.2 550.0,180.2 597.8,178.5 619.5,176.0 638.1,173.5 652.9,171.0 667.6,167.0 682.4,163.3 697.1,159.3 706.9,155.3 716.7,150.8 731.5,145.0 743.5,140.0 753.2,135.7 764.5,130.7 777.0,123.2 790.7,113.2 799.5,105.1 809.5,95.7 823.2,85.7 841.9,74.0 858.5,61.8 872.5,49.7 886.9,38.0"/><polyline points="7.5,209.8 56.1,197.6 87.9,188.0 120.5,181.5 151.7,177.6 184.2,172.0 215.4,167.6 232.9,166.0 249.0,165.1 287.7,165.1 296.5,167.2 328.3,171.0 356.5,177.2 376.5,178.5 407.9,180.2 472.1,180.2 490.5,179.2 504.5,180.2 551.0,180.2 598.8,178.5 620.5,176.0 639.1,173.5 653.9,171.0 668.6,167.0 683.4,163.3 698.1,159.3 707.9,155.3 717.7,150.8 732.5,145.0 744.5,140.0 754.2,135.7 765.5,130.7 778.0,123.2 791.7,113.2 800.5,105.1 810.5,95.7 824.2,85.7 842.9,74.0 859.5,61.8 873.5,49.7 887.9,38.0"/><polyline points="6.5,210.8 55.1,198.6 86.9,189.0 119.5,182.5 150.7,178.6 183.2,173.0 214.4,168.6 231.9,167.0 248.0,166.1 286.7,166.1 295.5,168.2 327.3,172.0 355.5,178.2 375.5,179.5 406.9,181.2 471.1,181.2 489.5,180.2 503.5,181.2 550.0,181.2 597.8,179.5 619.5,177.0 638.1,174.5 652.9,172.0 667.6,168.0 682.4,164.3 697.1,160.3 706.9,156.3 716.7,151.8 731.5,146.0 743.5,141.0 753.2,136.7 764.5,131.7 777.0,124.2 790.7,114.2 799.5,106.1 809.5,96.7 823.2,86.7 841.9,75.0 858.5,62.8 872.5,50.7 886.9,39.0"/><polyline points="7.5,210.8 56.1,198.6 87.9,189.0 120.5,182.5 151.7,178.6 184.2,173.0 215.4,168.6 232.9,167.0 249.0,166.1 287.7,166.1 296.5,168.2 328.3,172.0 356.5,178.2 376.5,179.5 407.9,181.2 472.1,181.2 490.5,180.2 504.5,181.2 551.0,181.2 598.8,179.5 620.5,177.0 639.1,174.5 653.9,172.0 668.6,168.0 683.4,164.3 698.1,160.3 707.9,156.3 717.7,151.8 732.5,146.0 744.5,141.0 754.2,136.7 765.5,131.7 778.0,124.2 791.7,114.2 800.5,106.1 810.5,96.7 824.2,86.7 842.9,75.0 859.5,62.8 873.5,50.7 887.9,39.0"/></g>
</g>
<rect x="2.1" y="4" width="91.7" height="14" fill="#fff"/>
<text x="3.1" y="15" class="t" fill="#000" textLength="89.7" lengthAdjust="spacingAndGlyphs">ITAUNIP-Weekly</text>
<rect x="101.1" y="4" width="63.5" height="14" fill="#fff"/>
<text x="102.1" y="15" class="t" fill="#000080" textLength="61.5" lengthAdjust="spacingAndGlyphs">02/04/2005</text>
<rect x="170.1" y="4" width="48.5" height="14" fill="#fff"/>
<text x="171.1" y="15" class="t" fill="#0f0" textLength="46.5" lengthAdjust="spacingAndGlyphs">C=2.818</text>
<rect x="224.6" y="4" width="32" height="14" fill="#fff"/>
<text x="225.6" y="15" class="t" fill="#0f0" textLength="30" lengthAdjust="spacingAndGlyphs">+.108</text>
<rect x="262.1" y="4" width="44" height="14" fill="#fff"/>
<text x="263.1" y="15" class="t" fill="#0f0" textLength="42" lengthAdjust="spacingAndGlyphs">+3.99%</text>
<rect x="311.4" y="4" width="48.7" height="14" fill="#fff"/>
<text x="312.4" y="15" class="t" fill="#0f0" textLength="46.7" lengthAdjust="spacingAndGlyphs">O=2.715</text>
<rect x="365" y="4" width="49.6" height="14" fill="#fff"/>
<text x="366" y="15" class="t" fill="#000080" textLength="47.6" lengthAdjust="spacingAndGlyphs">H=2.828</text>
<rect x="419.4" y="4" width="46.4" height="14" fill="#fff"/>
<text x="420.4" y="15" class="t" fill="#000080" textLength="44.4" lengthAdjust="spacingAndGlyphs">L=2.710</text>
<rect x="470.6" y="4" width="16.5" height="14" fill="#fff"/>
<text x="471.6" y="15" class="t" fill="#000080" textLength="14.5" lengthAdjust="spacingAndGlyphs">V=</text>
<rect x="484.6" y="4" width="58" height="14" fill="#fff"/>
<text x="485.6" y="15" class="t" fill="#000080" textLength="56" lengthAdjust="spacingAndGlyphs">16400555</text>
<rect x="742" y="4" width="4" height="13" fill="#fff"/>
<rect x="744.5" y="4" width="32.2" height="14" fill="#fff"/>
<text x="745.5" y="15" class="t" fill="#0f0" textLength="30.2" lengthAdjust="spacingAndGlyphs">2.727</text>
<rect x="791.3" y="4" width="32.4" height="14" fill="#fff"/>
<text x="792.3" y="15" class="t" fill="#f00" textLength="30.4" lengthAdjust="spacingAndGlyphs">1.622</text>
<rect x="1.9" y="424" width="66.4" height="14" fill="#fff"/>
<text x="2.9" y="435" class="t" fill="#000080" textLength="64.4" lengthAdjust="spacingAndGlyphs">MY-Volatility</text>
<rect x="74.1" y="424" width="25" height="14" fill="#fff"/>
<text x="75.1" y="435" class="t" fill="#00f" textLength="23" lengthAdjust="spacingAndGlyphs">2.95</text>
<rect x="103.8" y="424" width="43.8" height="14" fill="#fff"/>
<text x="104.8" y="435" class="t" fill="#000080" textLength="41.8" lengthAdjust="spacingAndGlyphs">Volume</text>
<rect x="153.4" y="424" width="74.2" height="14" fill="#fff"/>
<text x="154.4" y="435" class="t" fill="#f00" textLength="72.2" lengthAdjust="spacingAndGlyphs">16400555.00</text>
<text x="944.3" y="29" class="m" textLength="30.2" lengthAdjust="spacingAndGlyphs">2.800</text>
<text x="944.3" y="70" class="m" textLength="30.2" lengthAdjust="spacingAndGlyphs">2.600</text>
<text x="944.3" y="114" class="m" textLength="30.2" lengthAdjust="spacingAndGlyphs">2.400</text>
<text x="944.3" y="163" class="m" textLength="30.2" lengthAdjust="spacingAndGlyphs">2.200</text>
<text x="944.3" y="216" class="m" textLength="30.2" lengthAdjust="spacingAndGlyphs">2.000</text>
<text x="944.3" y="275" class="m" textLength="30.2" lengthAdjust="spacingAndGlyphs">1.800</text>
<text x="944.3" y="340" class="m" textLength="30.2" lengthAdjust="spacingAndGlyphs">1.600</text>
<text x="944.3" y="415" class="m" textLength="30.2" lengthAdjust="spacingAndGlyphs">1.400</text>
<text x="944.3" y="441" class="m" textLength="48.6" lengthAdjust="spacingAndGlyphs">1800000</text>
<text x="944.3" y="483" class="m" textLength="48.6" lengthAdjust="spacingAndGlyphs">1400000</text>
<text x="944.3" y="526" class="m" textLength="48.6" lengthAdjust="spacingAndGlyphs">1000000</text>
<text x="944.3" y="568" class="m" textLength="48.6" lengthAdjust="spacingAndGlyphs">6000000</text>
<rect x="992" y="0" width="1" height="651" fill="#fff"/><rect x="991" y="2" width="1" height="635" fill="#c0dcc0"/>
<text x="55.9" y="617" class="m">Feb</text>
<text x="119.9" y="617" class="m">Mar</text>
<text x="183.9" y="617" class="m">Apr</text>
<text x="263.9" y="617" class="m">May</text>
<text x="327.9" y="617" class="m">Jun</text>
<text x="391.9" y="617" class="m">Jul</text>
<text x="471.9" y="617" class="m">Aug</text>
<text x="535.9" y="617" class="m">Sep</text>
<text x="599.9" y="617" class="m">Oct</text>
<text x="679.9" y="617" class="m">Nov</text>
<text x="743.9" y="617" class="m">Dec</text>
<text x="823.9" y="617" class="m">2005</text>
<text x="887.9" y="617" class="m">Feb</text>
<text x="124" y="63" class="an" textLength="486.3" lengthAdjust="spacingAndGlyphs">Unipol Priv: per chi è rimasto al palo su un eventuale</text>
<text x="124" y="84.7" class="an" textLength="583.5" lengthAdjust="spacingAndGlyphs">ritracciamento con tenuta della trendline si potrebbe tentare un</text>
<text x="124" y="106.3" class="an" textLength="229.3" lengthAdjust="spacingAndGlyphs">ingresso a basso rischio</text>
<text x="734.3" y="648.3" font-size="11.3" fill="#000" textLength="257.3" lengthAdjust="spacingAndGlyphs">Created with Omega Research ProSuite 2000i © 1999</text>
</svg></body></html>
